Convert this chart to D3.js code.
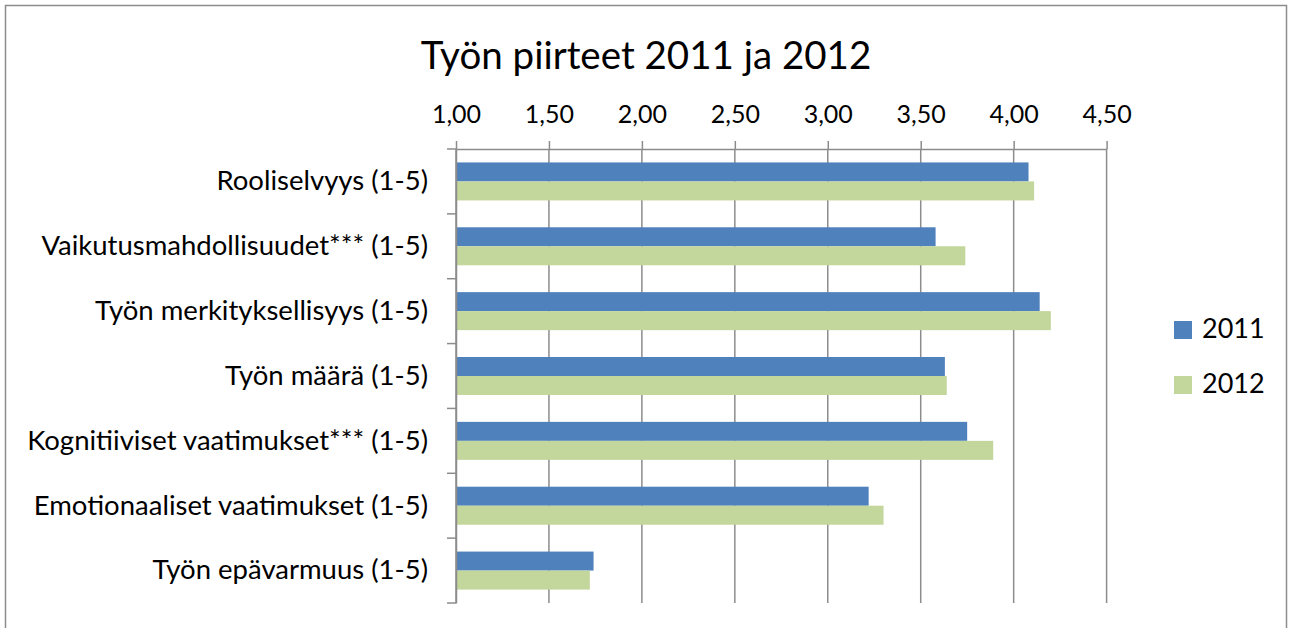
<!DOCTYPE html>
<html>
<head>
<meta charset="utf-8">
<script src="https://cdn.jsdelivr.net/npm/d3@7"></script>
<style>
  body { margin: 0; background: #fff; }
  svg { display: block; font-family: Lato, "Noto Sans", sans-serif; }
</style>
</head>
<body>
<div id="chart"></div>
<script>
// chart data
const categories = [
  "Rooliselvyys (1-5)",
  "Vaikutusmahdollisuudet*** (1-5)",
  "Työn merkityksellisyys (1-5)",
  "Työn määrä (1-5)",
  "Kognitiiviset vaatimukset*** (1-5)",
  "Emotionaaliset vaatimukset (1-5)",
  "Työn epävarmuus (1-5)"
];
const values2011 = [4.08, 3.58, 4.14, 3.63, 3.75, 3.22, 1.74];
const values2012 = [4.11, 3.74, 4.20, 3.64, 3.89, 3.30, 1.72];
const seriesNames = ["2011", "2012"];
const seriesColors = ["#4F81BD", "#C3D69B"];
const tickValues = [1.0, 1.5, 2.0, 2.5, 3.0, 3.5, 4.0, 4.5];
const chartTitle = "Työn piirteet 2011 ja 2012";

const W = 1292, H = 628;
const plotLeft = 456, plotRight = 1106.6, plotTop = 149, plotBottom = 603;

const svg = d3.select("#chart").append("svg")
  .attr("width", W)
  .attr("height", H);

// outer frame
svg.append("rect")
  .attr("x", 5.5).attr("y", 5.5)
  .attr("width", 1281).attr("height", 700)
  .attr("fill", "none")
  .attr("stroke", "#8c8c8c")
  .attr("stroke-width", 1.5);

svg.append("text")
  .attr("x", 646).attr("y", 69)
  .attr("text-anchor", "middle")
  .attr("font-size", 38.5)
  .attr("fill", "#000")
  .text(chartTitle);

const x = d3.scaleLinear().domain([1, 4.5]).range([plotLeft, plotRight]);
const y = d3.scaleBand().domain(categories).range([plotTop, plotBottom]);

const fmt = d => d3.format(".2f")(d).replace(".", ",");

// vertical gridlines
svg.append("g")
  .selectAll("line")
  .data(tickValues)
  .join("line")
  .attr("x1", d => x(d)).attr("x2", d => x(d))
  .attr("y1", plotTop).attr("y2", plotBottom)
  .attr("stroke", "#8c8c8c")
  .attr("stroke-width", 1.5);

// bars
const barH = 19;
svg.append("g")
  .selectAll("rect")
  .data(values2011)
  .join("rect")
  .attr("x", x(1))
  .attr("y", (d, i) => y(categories[i]) + y.bandwidth() / 2 - barH)
  .attr("width", d => x(d) - x(1))
  .attr("height", barH)
  .attr("fill", seriesColors[0]);

svg.append("g")
  .selectAll("rect")
  .data(values2012)
  .join("rect")
  .attr("x", x(1))
  .attr("y", (d, i) => y(categories[i]) + y.bandwidth() / 2)
  .attr("width", d => x(d) - x(1))
  .attr("height", barH)
  .attr("fill", seriesColors[1]);

// top value axis
const xAxis = svg.append("g")
  .attr("transform", `translate(0,${plotTop})`)
  .call(d3.axisTop(x).tickValues(tickValues).tickFormat(fmt).tickSizeInner(8).tickSizeOuter(0).tickPadding(18));
xAxis.selectAll("path, line").attr("stroke", "#8c8c8c").attr("stroke-width", 1.5);
xAxis.selectAll("text").attr("font-size", 25).attr("fill", "#000").attr("font-family", "Lato, sans-serif");

// left category axis
const yAxis = svg.append("g")
  .attr("transform", `translate(${plotLeft},0)`)
  .call(d3.axisLeft(y).tickSize(0).tickPadding(28));
yAxis.select("path").attr("stroke", "#8c8c8c").attr("stroke-width", 1.5);
yAxis.selectAll("text").attr("font-size", 27.5).attr("fill", "#000").attr("font-family", "Lato, sans-serif");

// category boundary ticks
const bounds = categories.map(c => y(c)).concat([plotBottom]);
svg.append("g")
  .selectAll("line")
  .data(bounds)
  .join("line")
  .attr("x1", plotLeft - 9).attr("x2", plotLeft)
  .attr("y1", d => d).attr("y2", d => d)
  .attr("stroke", "#8c8c8c")
  .attr("stroke-width", 1.5);

// legend
const legend = svg.append("g")
  .selectAll("g")
  .data(seriesNames)
  .join("g")
  .attr("transform", (d, i) => `translate(1174,${321 + i * 55})`);
legend.append("rect")
  .attr("width", 18).attr("height", 18)
  .attr("fill", (d, i) => seriesColors[i]);
legend.append("text")
  .attr("x", 28).attr("y", 17)
  .attr("font-size", 27)
  .attr("fill", "#000")
  .text(d => d);
</script>
</body>
</html>
